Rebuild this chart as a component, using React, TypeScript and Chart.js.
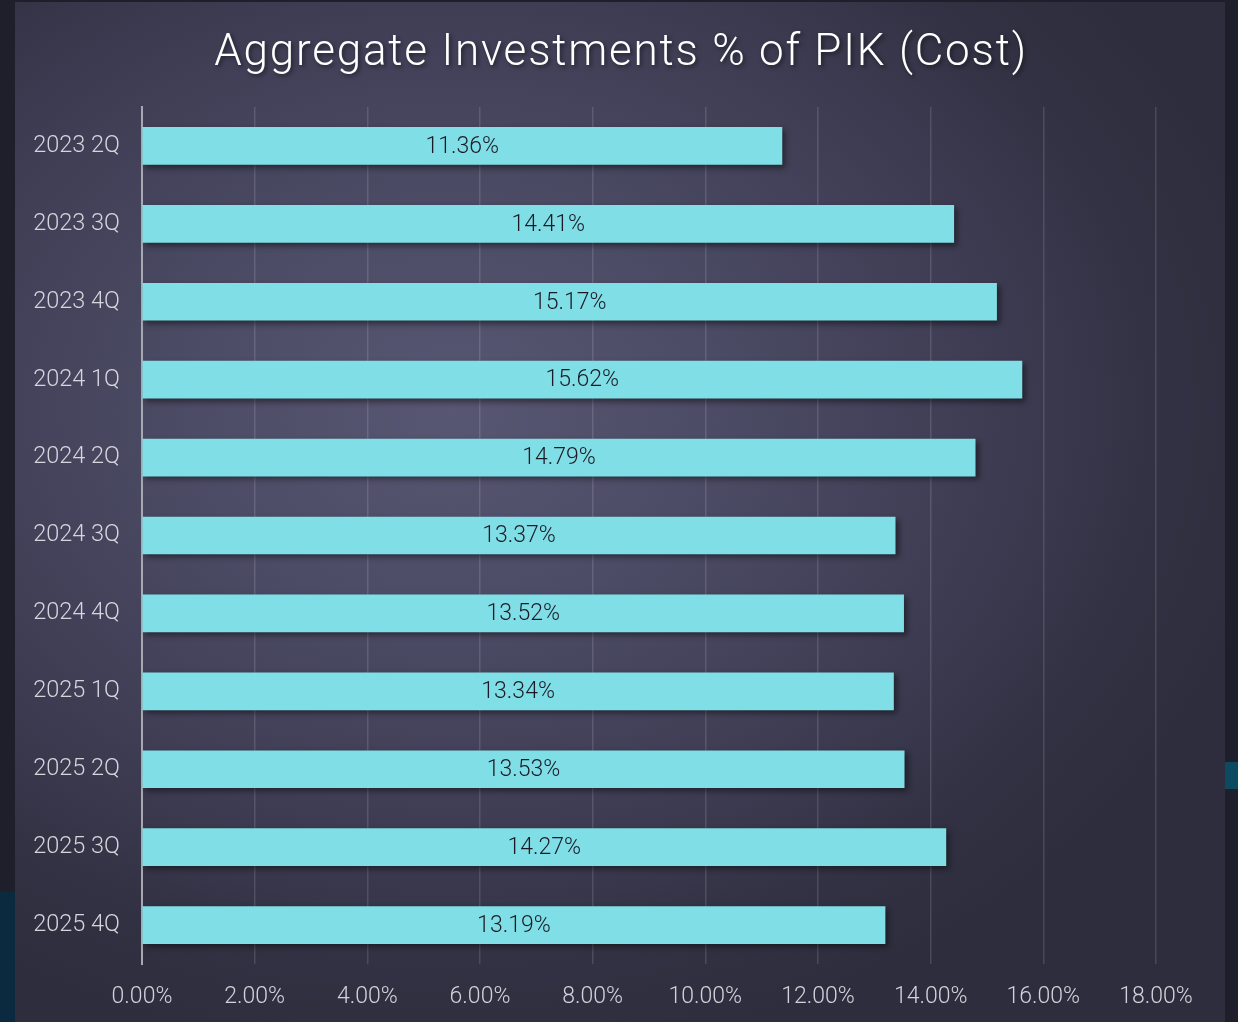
import React, { useEffect, useRef } from "react";
import { Chart, registerables } from "chart.js";

Chart.register(...registerables);

const titleText = "Aggregate Investments % of PIK (Cost)";
const categories = [
  "2023 2Q",
  "2023 3Q",
  "2023 4Q",
  "2024 1Q",
  "2024 2Q",
  "2024 3Q",
  "2024 4Q",
  "2025 1Q",
  "2025 2Q",
  "2025 3Q",
  "2025 4Q",
];
const values = [11.36, 14.41, 15.17, 15.62, 14.79, 13.37, 13.52, 13.34, 13.53, 14.27, 13.19];
const xMin = 0;
const xMax = 18;
const xStep = 2;

const FONT = "Roboto, 'Noto Sans', sans-serif";

export default function App() {
  const ref = useRef<HTMLCanvasElement | null>(null);

  useEffect(() => {
    const canvas = ref.current;
    if (!canvas) return;

    const decor = {
      id: "decor",
      beforeDatasetsDraw(chart: any) {
        const ctx = chart.ctx;
        ctx.save();
        ctx.shadowColor = "rgba(0,0,0,0.45)";
        ctx.shadowBlur = 6;
        ctx.shadowOffsetX = 3;
        ctx.shadowOffsetY = 3;
      },
      afterDatasetsDraw(chart: any) {
        const ctx = chart.ctx;
        ctx.restore();
        const meta = chart.getDatasetMeta(0);
        ctx.save();
        ctx.font = `300 23px ${FONT}`;
        ctx.fillStyle = "#1b1b27";
        ctx.textAlign = "center";
        ctx.textBaseline = "middle";
        meta.data.forEach((bar: any, i: number) => {
          const cx = (bar.x + bar.base) / 2;
          ctx.fillText(values[i].toFixed(2) + "%", cx, bar.y + 1);
        });
        ctx.restore();
      },
      afterDraw(chart: any) {
        const ctx = chart.ctx;
        ctx.save();
        ctx.font = `300 44px ${FONT}`;
        (ctx as any).letterSpacing = "1.8px";
        ctx.fillStyle = "#ffffff";
        ctx.textAlign = "center";
        ctx.textBaseline = "alphabetic";
        ctx.shadowColor = "rgba(0,0,0,0.5)";
        ctx.shadowBlur = 4;
        ctx.shadowOffsetX = 2;
        ctx.shadowOffsetY = 2;
        ctx.fillText(titleText, chart.width / 2 + 1, 63);
        ctx.restore();
      },
    };

    const chart = new Chart(canvas, {
      type: "bar",
      data: {
        labels: categories,
        datasets: [
          {
            data: values,
            backgroundColor: "#80DFE6",
            borderWidth: 0,
            barThickness: 37,
          },
        ],
      },
      options: {
        indexAxis: "y",
        responsive: false,
        animation: false,
        devicePixelRatio: 1,
        layout: { padding: { top: 105, right: 69, bottom: 0, left: 0 } },
        plugins: {
          legend: { display: false },
          title: { display: false },
          tooltip: { enabled: false },
        },
        scales: {
          x: {
            min: xMin,
            max: xMax,
            afterFit(scale: any) {
              scale.height = 58;
            },
            ticks: {
              stepSize: xStep,
              color: "#d2d2da",
              padding: 19,
              font: { family: FONT, size: 23, weight: 300 as any },
              callback: (v: any) => Number(v).toFixed(2) + "%",
              maxRotation: 0,
            },
            grid: {
              color: "rgba(255,255,255,0.13)",
              lineWidth: 1.5,
              drawTicks: false,
            },
            border: { display: false },
          },
          y: {
            afterFit(scale: any) {
              scale.width = 127;
            },
            ticks: {
              color: "#d5d5dd",
              padding: 22,
              font: { family: FONT, size: 23.5, weight: 300 as any },
            },
            grid: { display: false, drawTicks: false },
            border: { display: true, color: "#a8a8b2", width: 2 },
          },
        },
      },
      plugins: [decor],
    });

    return () => chart.destroy();
  }, []);

  return (
    <div
      style={{
        position: "fixed",
        left: 0,
        top: 0,
        width: 1238,
        height: 1022,
        background: "#1f1e2b",
        overflow: "hidden",
      }}
    >
      <div
        style={{
          position: "absolute",
          left: 0,
          top: 892,
          width: 15,
          height: 130,
          background: "#0c2a3f",
        }}
      />
      <div
        style={{
          position: "absolute",
          left: 1225,
          top: 762,
          width: 13,
          height: 27,
          background: "#0b4a60",
        }}
      />
      <div
        style={{
          position: "absolute",
          left: 15,
          top: 2,
          width: 1210,
          height: 1020,
          background:
            "radial-gradient(ellipse 70% 65% at 36% 40%, #585773 0%, #4d4c66 30%, #3f3e55 60%, #323143 85%, #2e2d3d 100%)",
        }}
      >
        <canvas ref={ref} width={1210} height={1020} style={{ width: 1210, height: 1020, display: "block" }} />
      </div>
    </div>
  );
}
